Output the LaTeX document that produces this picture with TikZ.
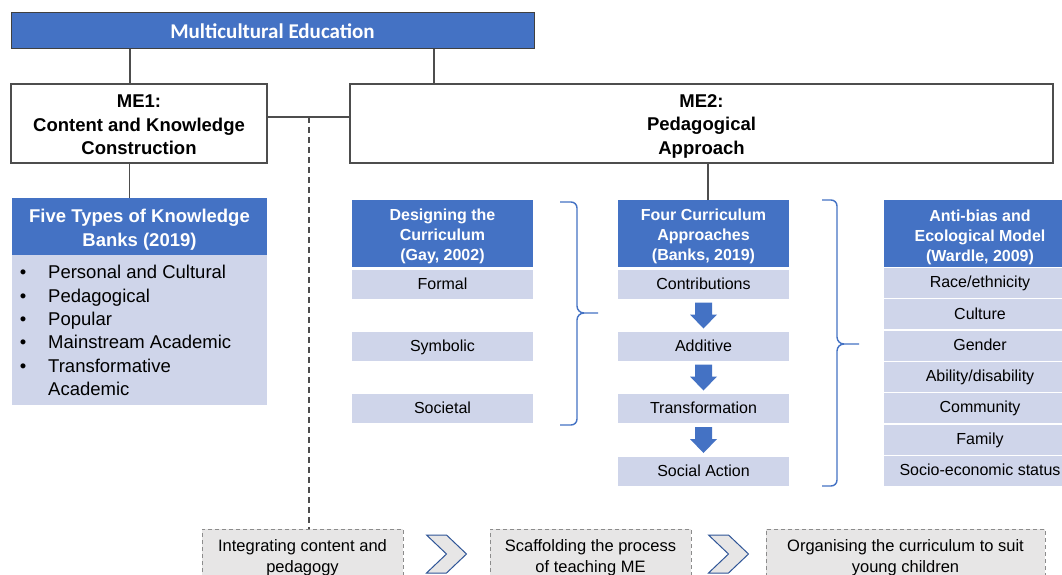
\documentclass[tikz,border=0pt]{standalone}
\usepackage{fontspec}
\setmainfont{Liberation Sans}
\newfontfamily\calfont{Carlito}
\usetikzlibrary{calc}

\definecolor{mblue}{HTML}{4472C4}
\definecolor{mlight}{HTML}{CFD5EA}
\definecolor{mgray}{HTML}{E7E6E6}
\definecolor{mline}{HTML}{4D4D4D}
\definecolor{mdash}{HTML}{8C8C8C}
\definecolor{mchev}{HTML}{2F5597}

\newcommand\fsz[2]{\fontsize{#1}{#2}\selectfont}

\tikzset{
  box/.style={anchor=north west, inner sep=0pt, outer sep=0pt, align=center},
  label text/.style={inner sep=0pt, outer sep=0pt, align=center},
  topbox/.style={box, fill=mblue, draw=black!75, line width=1pt, text=white,
    font=\calfont\bfseries\fsz{21}{25}},
  mebox/.style={box, draw=mline, line width=1.2pt, fill=white},
  metext/.style={label text, font=\bfseries\fsz{18.5}{23.5}},
  headbox/.style={box, fill=mblue},
  headtext/.style={label text, text=white, font=\bfseries\fsz{16}{20}},
  rowbox/.style={box, fill=mlight, font=\fsz{16}{20}, text height=13pt, text depth=3.5pt},
  listtext/.style={anchor=base west, inner sep=0pt, font=\fsz{18.5}{23.4}},
  listbullet/.style={anchor=base, inner sep=0pt, font=\fsz{18.5}{23.4}},
  link/.style={draw=mline, line width=1.2pt},
  dashlink/.style={draw=mline, line width=1.1pt, dash pattern=on 6pt off 4pt},
  bracket/.style={draw=mblue, line width=1.4pt},
  stepbox/.style={box, fill=mgray, draw=mdash, line width=0.9pt,
    dash pattern=on 4pt off 3pt},
  steptext/.style={label text, font=\fsz{16.5}{20.5}},
  pics/darr/.style={code={
    \fill[mblue] (-8.5,-13) -- (8.5,-13) -- (8.5,-1) -- (13.5,-1) -- (0,13)
      -- (-13.5,-1) -- (-8.5,-1) -- cycle;}},
  pics/chev/.style={code={
    \filldraw[fill=mgray, draw=mchev, line width=1pt, line join=miter]
      (-20,-19) -- (0,-19) -- (20,0) -- (0,19) -- (-20,19) -- (0,0) -- cycle;}},
}

\begin{document}
\begin{tikzpicture}[x=1pt, y=-1pt]
  \clip (0,0) rectangle (1062,575);
  \fill[white] (0,0) rectangle (1062,575);

  % top level
  \node[topbox, minimum width=523, minimum height=36] (top) at (11,13) {Multicultural Education};

  % the two strands
  \node[mebox, minimum width=256, minimum height=79] (me1) at (11,84) {};
  \node[metext] (me1t) at ([yshift=-1.5pt]me1.center) {ME1:\\Content and Knowledge\\Construction};
  \node[mebox, minimum width=703, minimum height=79] (me2) at (350,84) {};
  \node[metext] (me2t) at ([yshift=-2.5pt]me2.center) {ME2:\\Pedagogical\\Approach};

  \draw[link] ([xshift=-9pt]me1.north) -- ([xshift=-9pt]me1.north |- top.south);
  \draw[link] ([xshift=-267.5pt]me2.north) -- ([xshift=-267.5pt]me2.north |- top.south);
  \coordinate (jn) at (309,117);
  \draw[link] (me1.east |- jn) -- (me2.west |- jn);

  % knowledge banks
  \node[headbox, minimum width=255, minimum height=57] (kbh) at (12,198) {};
  \node[headtext, font=\bfseries\fsz{18.5}{24}] (kbht) at ([yshift=-3pt]kbh.center)
    {Five Types of Knowledge\\Banks (2019)};
  \node[box, fill=mlight, minimum width=255, minimum height=150] (kbb) at (12,255) {};
  \draw[link] ([xshift=-10pt]kbh.north) -- ([xshift=-10pt]kbh.north |- me1.south);

  \node[listbullet] (b1) at (23,278.6) {\textbullet};
  \node[listbullet] (b2) at (23,302.0) {\textbullet};
  \node[listbullet] (b3) at (23,325.4) {\textbullet};
  \node[listbullet] (b4) at (23,348.8) {\textbullet};
  \node[listbullet] (b5) at (23,372.2) {\textbullet};
  \node[listtext] (k1) at (48,278.6) {Personal and Cultural};
  \node[listtext] (k2) at (48,302.0) {Pedagogical};
  \node[listtext] (k3) at (48,325.4) {Popular};
  \node[listtext] (k4) at (48,348.8) {Mainstream Academic};
  \node[listtext] (k5) at (48,372.2) {Transformative};
  \node[listtext] (k6) at (48,395.6) {Academic};

  % designing the curriculum
  \node[headbox, minimum width=181, minimum height=67] (gayh) at (352,200) {};
  \node[headtext] (gayt) at ([yshift=-3pt]gayh.center) {Designing the\\Curriculum\\(Gay, 2002)};
  \node[rowbox, minimum width=181, minimum height=29] (formal) at (352,270) {Formal};
  \node[rowbox, minimum width=181, minimum height=29] (symbolic) at (352,332) {Symbolic};
  \node[rowbox, minimum width=181, minimum height=29] (societal) at (352,394) {Societal};

  % four curriculum approaches
  \node[headbox, minimum width=171, minimum height=67] (banksh) at (618,200) {};
  \node[headtext] (bankst) at ([yshift=-3pt]banksh.center) {Four Curriculum\\Approaches\\(Banks, 2019)};
  \node[rowbox, minimum width=171, minimum height=29] (contrib) at (618,270) {Contributions};
  \node[rowbox, minimum width=171, minimum height=29] (additive) at (618,332) {Additive};
  \node[rowbox, minimum width=171, minimum height=29] (transf) at (618,394) {Transformation};
  \node[rowbox, minimum width=171, minimum height=29] (social) at (618,457) {Social Action};
  \draw[link] ([xshift=4.5pt]banksh.north) -- ([xshift=4.5pt]banksh.north |- me2.south);

  \pic (a1) at ($(contrib.south)!0.5!(additive.north)$) {darr};
  \pic (a2) at ($(additive.south)!0.5!(transf.north)$) {darr};
  \pic (a3) at ($(transf.south)!0.5!(social.north)$) {darr};

  % anti-bias and ecological model
  \node[headbox, minimum width=192, minimum height=67] (wardh) at (884,200) {};
  \node[headtext] (wardt) at ([yshift=-3.5pt]wardh.center) {Anti-bias and\\Ecological Model\\(Wardle, 2009)};
  \node[rowbox, minimum width=192, minimum height=30] (w1) at (884,268.0) {Race/ethnicity};
  \node[rowbox, minimum width=192, minimum height=30] (w2) at (884,299.3) {Culture};
  \node[rowbox, minimum width=192, minimum height=30] (w3) at (884,330.6) {Gender};
  \node[rowbox, minimum width=192, minimum height=30] (w4) at (884,361.9) {Ability/disability};
  \node[rowbox, minimum width=192, minimum height=30] (w5) at (884,393.2) {Community};
  \node[rowbox, minimum width=192, minimum height=30] (w6) at (884,424.5) {Family};
  \node[rowbox, minimum width=192, minimum height=30] (w7) at (884,455.8) {Socio-economic status};

  % braces
  \draw[bracket] (560,202) -- (571,202) to[out=0,in=90] (577,208) -- (577,306)
    to[out=-90,in=180] (584,313) -- (598,313);
  \draw[bracket] (584,313) to[out=180,in=90] (577,320) -- (577,419)
    to[out=-90,in=0] (571,425) -- (560,425);
  \draw[bracket] (822,200) -- (831,200) to[out=0,in=90] (837,206) -- (837,337)
    to[out=-90,in=180] (844,344) -- (859,344);
  \draw[bracket] (844,344) to[out=180,in=90] (837,351) -- (837,480)
    to[out=-90,in=0] (831,486) -- (822,486);

  % process steps
  \node[stepbox, minimum width=201, minimum height=56] (integ) at (202,529) {};
  \node[steptext] (integt) at ([yshift=-0.5pt]integ.center) {Integrating content and\\pedagogy};
  \node[stepbox, minimum width=201, minimum height=56] (scaf) at (490,529) {};
  \node[steptext] (scaft) at ([yshift=-0.5pt]scaf.center) {Scaffolding the process\\of teaching ME};
  \node[stepbox, minimum width=279, minimum height=56] (organ) at (766,529) {};
  \node[steptext] (organt) at ([yshift=-0.5pt]organ.center) {Organising the curriculum to suit\\young children};
  \draw[dashlink] (jn) -- (jn |- integ.north);

  \pic (c1) at ($(integ.east)!0.5!(scaf.west) + (0,-3)$) {chev};
  \pic (c2) at ($(scaf.east)!0.5!(organ.west) + (0,-3)$) {chev};
\end{tikzpicture}
\end{document}
